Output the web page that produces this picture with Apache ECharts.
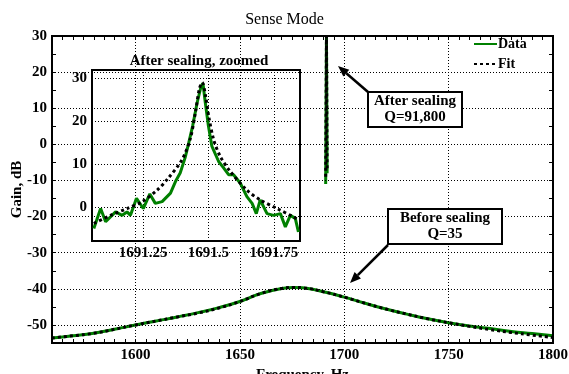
<!DOCTYPE html>
<html>
<head>
<meta charset="utf-8">
<script src="https://cdn.jsdelivr.net/npm/echarts@6/dist/echarts.min.js"></script>
<style>
  html, body { margin: 0; padding: 0; background: #fff; }
  #chart { width: 569px; height: 374px; }
</style>
</head>
<body>
<div id="chart"></div>
<script>
// Sense Mode - gain vs. frequency, before / after sealing, with zoomed inset

const FONT = 'Liberation Serif'
const GREEN = '#008000'

// before sealing (Q=35), broad resonance
const beforeFreq = [1560, 1570, 1580, 1590, 1600, 1610, 1620, 1630, 1640, 1650, 1660, 1670, 1676,
  1680, 1690, 1700, 1710, 1720, 1730, 1740, 1750, 1760, 1770, 1780, 1790, 1800]
const beforeData = [-53.6, -53.0, -52.3, -51.2, -50.0, -48.9, -47.8, -46.6, -45.2, -43.5, -41.3, -39.9, -39.6,
  -39.7, -40.8, -42.3, -44.0, -45.6, -47.0, -48.3, -49.4, -50.3, -51.0, -51.8, -52.4, -53.0]
const beforeFit = [-53.6, -53.0, -52.3, -51.2, -50.0, -48.9, -47.8, -46.7, -45.3, -43.5, -41.3, -39.9, -39.6,
  -39.7, -40.8, -42.3, -44.0, -45.6, -47.0, -48.3, -49.4, -50.4, -51.3, -52.1, -52.8, -53.5]

// after sealing (Q=91,800), seen as a spike in the main plot
const spikeFreq = [1691.1, 1691.48, 1691.8]
const spikeData = [-11, 30, -8]
const spikeFit = [-9, 30, -7]

// inset: after sealing, zoomed
const insetDataFreq = [1691.062, 1691.088, 1691.107, 1691.145, 1691.170, 1691.189, 1691.202, 1691.225,
  1691.251, 1691.276, 1691.297, 1691.323, 1691.355, 1691.374, 1691.392, 1691.411, 1691.425, 1691.440,
  1691.457, 1691.472, 1691.479, 1691.488, 1691.500, 1691.513, 1691.539, 1691.558, 1691.577, 1691.596,
  1691.622, 1691.647, 1691.667, 1691.683, 1691.698, 1691.724, 1691.749, 1691.775, 1691.794, 1691.813,
  1691.832, 1691.844]
const insetDataGain = [-5.1, -0.4, -3.5, -1.2, -2.0, -1.2, -2.0, 2.0,
  -0.4, 3.0, 0.8, 1.2, 3.2, 5.9, 7.9, 11.5, 15.0, 19.0,
  24.4, 28.2, 28.9, 24.4, 18.9, 14.2, 10.6, 9.1, 7.5, 7.5,
  5.5, 2.4, 0.8, -1.6, 1.6, -1.6, -2.0, -1.6, -4.7, -2.0,
  -2.7, -5.9]
const insetFitFreq = [1691.062, 1691.126, 1691.189, 1691.247, 1691.304, 1691.345, 1691.399, 1691.431,
  1691.450, 1691.465, 1691.476, 1691.489, 1691.501, 1691.520, 1691.545, 1691.583, 1691.647, 1691.698,
  1691.762, 1691.826, 1691.844]
const insetFitGain = [-3.9, -2.0, -0.4, 1.2, 3.9, 6.6, 11.0, 16.0,
  22.0, 27.5, 29.1, 26.0, 21.2, 15.7, 11.8, 8.3, 3.9, 1.6,
  -0.4, -2.4, -3.1]

// tick labels
const mainXTicks = [1600, 1650, 1700, 1750, 1800]
const mainYTicks = [-50, -40, -30, -20, -10, 0, 10, 20, 30]
const insetXTicks = [1691.25, 1691.5, 1691.75]
const insetYTicks = [0, 10, 20, 30]

const zip = (xs, ys) => xs.map((x, i) => [x, ys[i]])

const labelStyle = { fontFamily: FONT, fontSize: 15, fontWeight: 'bold', color: '#000' }
const dotted = { color: '#000', width: 1, type: [1, 2] }

// axis carrying the labels at the major ticks
function labelAxis(grid, min, max, ticks, extra) {
  return Object.assign({
    type: 'value', gridIndex: grid, min, max,
    axisLine: { show: false, onZero: false },
    axisTick: { show: false },
    axisLabel: Object.assign({ customValues: ticks, margin: 5, formatter: v => String(v) }, labelStyle),
    splitLine: { show: false },
  }, extra || {})
}

// axis carrying only the small inward ticks every 5 units
function tickAxis(position, min, max) {
  return {
    type: 'value', gridIndex: 0, min, max, interval: 5, position,
    axisLine: { show: false, onZero: false },
    axisTick: { show: true, inside: true, length: 4, lineStyle: { color: '#000', width: 1 } },
    axisLabel: { show: false },
    splitLine: { show: false },
  }
}

// dotted grid lines at the major ticks
function gridLines(xs, ys) {
  return {
    silent: true, symbol: 'none', animation: false,
    label: { show: false }, emphasis: { disabled: true },
    lineStyle: dotted,
    data: xs.map(v => ({ xAxis: v })).concat(ys.map(v => ({ yAxis: v }))),
  }
}

// arrow line + head, tip at (x2, y2)
function arrow(x1, y1, x2, y2) {
  const dx = x2 - x1, dy = y2 - y1
  const len = Math.sqrt(dx * dx + dy * dy)
  const ux = dx / len, uy = dy / len
  const bx = x2 - ux * 11, by = y2 - uy * 11
  const px = -uy * 4.5, py = ux * 4.5
  return [
    { type: 'line', z: 20, shape: { x1, y1, x2: bx, y2: by }, style: { stroke: '#000', lineWidth: 2.5 } },
    { type: 'polygon', z: 20, shape: { points: [[x2, y2], [bx + px, by + py], [bx - px, by - py]] }, style: { fill: '#000' } },
  ]
}

function noteBox(x, y, w, h, text) {
  return [
    { type: 'rect', z: 20, shape: { x, y, width: w, height: h }, style: { fill: '#fff', stroke: '#000', lineWidth: 2 } },
    { type: 'text', z: 21, x: x + w / 2, y: y + h / 2, style: {
      text, fontFamily: FONT, fontSize: 15, fontWeight: 'bold', fill: '#000',
      align: 'center', verticalAlign: 'middle', lineHeight: 16 } },
  ]
}

const chart = echarts.init(document.getElementById('chart'))

chart.setOption({
  animation: false,
  backgroundColor: '#fff',
  title: [
    { text: 'Sense Mode', left: 'center', top: 12, padding: 0,
      textStyle: { fontFamily: FONT, fontSize: 16, fontWeight: 'normal', color: '#000' } },
    { text: 'After sealing, zoomed', left: 199, textAlign: 'center', top: 54, padding: 0, z: 10,
      textStyle: { fontFamily: FONT, fontSize: 15, fontWeight: 'bold', color: '#000' } },
  ],
  legend: {
    data: ['Data', 'Fit'], orient: 'vertical', left: 473, top: 37, padding: 0,
    itemWidth: 23, itemHeight: 14, itemGap: 6,
    itemStyle: { color: 'transparent', borderWidth: 0, opacity: 0 },
    textStyle: { fontFamily: FONT, fontSize: 14, fontWeight: 'bold', color: '#000', padding: [0, 0, 0, -4] },
  },
  grid: [
    { left: 52, top: 36, width: 501, height: 307, show: true, z: 3, outerBoundsMode: 'none',
      borderColor: '#000', borderWidth: 2, backgroundColor: 'transparent' },
    { left: 92, top: 70, width: 208, height: 171, show: true, z: 5, outerBoundsMode: 'none',
      borderColor: '#000', borderWidth: 2, backgroundColor: '#fff' },
  ],
  xAxis: [
    labelAxis(0, 1560, 1800, mainXTicks, {
      name: 'Frequency, Hz', nameLocation: 'middle', nameGap: 21, nameTextStyle: labelStyle,
    }),
    tickAxis('bottom', 1560, 1800),
    tickAxis('top', 1560, 1800),
    labelAxis(1, 1691.055, 1691.85, insetXTicks, { z: 6 }),
  ],
  yAxis: [
    labelAxis(0, -55, 30, mainYTicks, {
      name: 'Gain, dB', nameLocation: 'middle', nameGap: 27, nameMoveOverlap: false,
      nameTextStyle: labelStyle,
    }),
    tickAxis('left', -55, 30),
    tickAxis('right', -55, 30),
    labelAxis(1, -8, 32, insetYTicks, { z: 6 }),
  ],
  series: [
    { name: 'Data', type: 'line', xAxisIndex: 0, yAxisIndex: 0, data: zip(beforeFreq, beforeData),
      symbol: 'none', smooth: true, color: GREEN, lineStyle: { color: GREEN, width: 3 }, z: 2,
      markLine: gridLines(mainXTicks, mainYTicks) },
    { name: 'Fit', type: 'line', xAxisIndex: 0, yAxisIndex: 0, data: zip(beforeFreq, beforeFit),
      symbol: 'none', smooth: true, color: '#000', lineStyle: { color: '#000', width: 3, type: [3, 3] }, z: 2 },
    { name: 'Data', type: 'line', xAxisIndex: 0, yAxisIndex: 0, data: zip(spikeFreq, spikeData),
      symbol: 'none', color: GREEN, lineStyle: { color: GREEN, width: 3 }, z: 2 },
    { name: 'Fit', type: 'line', xAxisIndex: 0, yAxisIndex: 0, data: zip(spikeFreq, spikeFit),
      symbol: 'none', color: '#000', lineStyle: { color: '#000', width: 3, type: [3, 3] }, z: 2 },
    { name: 'Data', type: 'line', xAxisIndex: 3, yAxisIndex: 3, data: zip(insetDataFreq, insetDataGain),
      symbol: 'none', color: GREEN, lineStyle: { color: GREEN, width: 3 }, z: 7,
      markLine: gridLines(insetXTicks, insetYTicks) },
    { name: 'Fit', type: 'line', xAxisIndex: 3, yAxisIndex: 3, data: zip(insetFitFreq, insetFitGain),
      symbol: 'none', smooth: 0.3, color: '#000', lineStyle: { color: '#000', width: 3, type: [3, 3] }, z: 8 },
  ],
  graphic: [
    ...arrow(368, 92, 338, 66),
    ...noteBox(368, 92, 94, 35, 'After sealing\nQ=91,800'),
    ...arrow(388, 245, 350, 283),
    ...noteBox(388, 209, 114, 35, 'Before sealing\nQ=35'),
  ],
})
</script>
</body>
</html>
